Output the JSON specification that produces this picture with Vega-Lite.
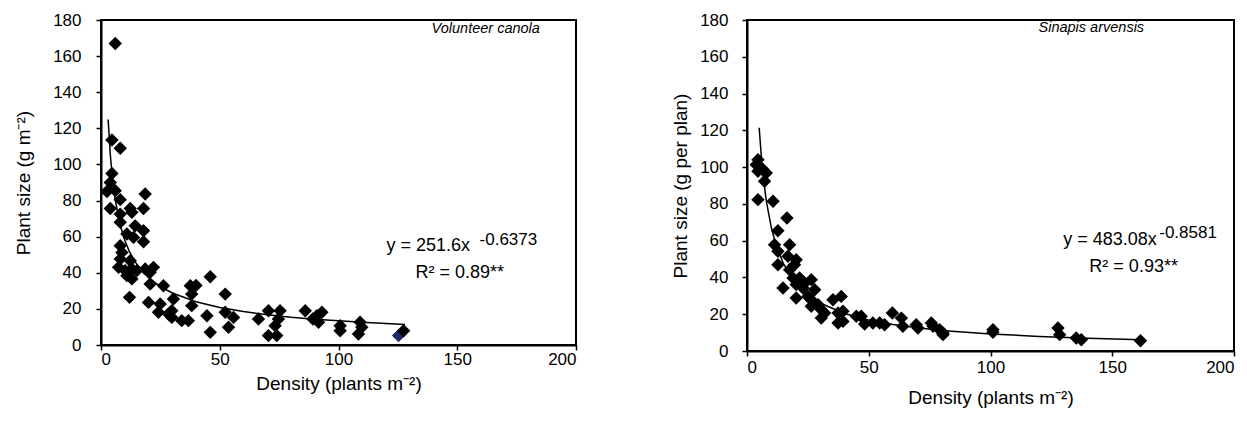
{
  "$schema": "https://vega.github.io/schema/vega-lite/v6.json",
  "background": "white",
  "padding": {"left": 13, "top": 10, "right": 5, "bottom": 5},
  "spacing": 171,
  "bounds": "flush",
  "config": {
    "font": "Liberation Sans",
    "view": {"stroke": "black", "strokeWidth": 2},
    "axis": {
      "grid": false,
      "domainColor": "black",
      "domainWidth": 2,
      "tickColor": "black",
      "tickWidth": 1.5,
      "tickSize": 5,
      "labelColor": "black",
      "labelFontSize": 17,
      "titleFontSize": 19,
      "titleFontWeight": "normal",
      "titleColor": "black"
    }
  },
  "datasets": {
    "leftPts": [
      {"x": 6, "y": 167, "grp": "a"}, {"x": 4.6, "y": 113.5, "grp": "a"}, {"x": 8.1, "y": 109, "grp": "a"},
      {"x": 4.6, "y": 95, "grp": "a"}, {"x": 3.9, "y": 90, "grp": "a"}, {"x": 2.5, "y": 85, "grp": "a"},
      {"x": 6, "y": 85.5, "grp": "a"}, {"x": 8.1, "y": 80.5, "grp": "a"}, {"x": 18.6, "y": 83.6, "grp": "a"},
      {"x": 3.9, "y": 75.6, "grp": "a"}, {"x": 12.3, "y": 75.6, "grp": "a"}, {"x": 17.9, "y": 75.6, "grp": "a"},
      {"x": 8.1, "y": 72.5, "grp": "a"}, {"x": 13, "y": 73.5, "grp": "a"}, {"x": 8.1, "y": 68, "grp": "a"},
      {"x": 14.4, "y": 66, "grp": "a"}, {"x": 17.9, "y": 63.3, "grp": "a"}, {"x": 10.9, "y": 61.5, "grp": "a"},
      {"x": 13.7, "y": 59.6, "grp": "a"}, {"x": 17.9, "y": 57.2, "grp": "a"}, {"x": 8.1, "y": 55, "grp": "a"},
      {"x": 8.8, "y": 51.3, "grp": "a"}, {"x": 8.1, "y": 47.6, "grp": "a"}, {"x": 12.3, "y": 46.7, "grp": "a"},
      {"x": 7.4, "y": 43, "grp": "a"}, {"x": 10.2, "y": 41.2, "grp": "a"}, {"x": 13, "y": 42.1, "grp": "a"},
      {"x": 15.1, "y": 41.2, "grp": "a"}, {"x": 10.9, "y": 38.4, "grp": "a"}, {"x": 13, "y": 36.6, "grp": "a"},
      {"x": 18.6, "y": 42.1, "grp": "a"}, {"x": 22.1, "y": 43, "grp": "a"}, {"x": 20.7, "y": 40.3, "grp": "a"},
      {"x": 20.7, "y": 33.8, "grp": "a"}, {"x": 26.3, "y": 32.8, "grp": "a"}, {"x": 12, "y": 26.4, "grp": "a"},
      {"x": 20, "y": 23.6, "grp": "a"}, {"x": 24.9, "y": 22.7, "grp": "a"}, {"x": 24.2, "y": 18.1, "grp": "a"},
      {"x": 30.5, "y": 25.5, "grp": "a"}, {"x": 29.8, "y": 19, "grp": "a"}, {"x": 28.4, "y": 17.2, "grp": "a"},
      {"x": 29.8, "y": 15.3, "grp": "a"}, {"x": 34, "y": 13.5, "grp": "a"}, {"x": 36.8, "y": 13.5, "grp": "a"},
      {"x": 37.6, "y": 32.8, "grp": "a"}, {"x": 38.2, "y": 28.2, "grp": "a"}, {"x": 38.2, "y": 21.8, "grp": "a"},
      {"x": 40, "y": 33, "grp": "a"},
      {"x": 46, "y": 37.8, "grp": "a"}, {"x": 44.6, "y": 16.2, "grp": "a"}, {"x": 46, "y": 7, "grp": "a"},
      {"x": 52.3, "y": 28.2, "grp": "a"}, {"x": 52.3, "y": 18.1, "grp": "a"}, {"x": 53.7, "y": 9.8, "grp": "a"},
      {"x": 55.8, "y": 15.3, "grp": "a"}, {"x": 66.3, "y": 14.4, "grp": "a"}, {"x": 70.5, "y": 19, "grp": "a"},
      {"x": 75.4, "y": 19, "grp": "a"}, {"x": 74.7, "y": 14.4, "grp": "a"}, {"x": 73.3, "y": 10.7, "grp": "a"},
      {"x": 70.5, "y": 5.2, "grp": "a"}, {"x": 74, "y": 5.2, "grp": "a"}, {"x": 86, "y": 19, "grp": "a"},
      {"x": 89.2, "y": 14.4, "grp": "a"}, {"x": 90.9, "y": 16.2, "grp": "a"}, {"x": 93, "y": 18.1, "grp": "a"},
      {"x": 91.6, "y": 12.6, "grp": "a"}, {"x": 100.7, "y": 10.7, "grp": "a"}, {"x": 100.7, "y": 7.9, "grp": "a"},
      {"x": 109.1, "y": 12.6, "grp": "a"}, {"x": 108.4, "y": 6.1, "grp": "a"}, {"x": 109.8, "y": 9.8, "grp": "a"},
      {"x": 125.3, "y": 5.2, "grp": "b"}, {"x": 127.4, "y": 7.9, "grp": "a"}
    ],
    "leftFit": [
      {"x": 3, "y": 124.9}, {"x": 4, "y": 104.0}, {"x": 5, "y": 90.2}, {"x": 6, "y": 80.3},
      {"x": 8, "y": 66.9}, {"x": 10, "y": 58.0}, {"x": 12, "y": 51.6}, {"x": 15, "y": 44.8},
      {"x": 20, "y": 37.3}, {"x": 25, "y": 32.4}, {"x": 30, "y": 28.8}, {"x": 40, "y": 24.0},
      {"x": 50, "y": 20.8}, {"x": 60, "y": 18.5}, {"x": 70, "y": 16.8}, {"x": 80, "y": 15.4},
      {"x": 90, "y": 14.3}, {"x": 100, "y": 13.4}, {"x": 110, "y": 12.6}, {"x": 120, "y": 11.9},
      {"x": 128, "y": 11.4}
    ],
    "leftTxt": [
      {"x": 120.2, "y": 55, "label": "y = 251.6x"},
      {"x": 132.4, "y": 40, "label": "R² = 0.89**"}
    ],
    "leftSup": [{"x": 159.4, "y": 58, "label": "-0.6373"}],
    "leftName": [{"x": 162, "y": 175, "label": "Volunteer canola"}],
    "rightPts": [
      {"x": 4.5, "y": 104}, {"x": 3.8, "y": 101.3}, {"x": 5.2, "y": 100.4}, {"x": 4.5, "y": 97.7},
      {"x": 6.6, "y": 98.6}, {"x": 7.9, "y": 96.8}, {"x": 7.2, "y": 92.3}, {"x": 4.5, "y": 82.3},
      {"x": 10.7, "y": 81.4}, {"x": 16.4, "y": 72.3}, {"x": 12.7, "y": 65.4}, {"x": 11.3, "y": 57.8},
      {"x": 17.5, "y": 57.8}, {"x": 12.7, "y": 54.2}, {"x": 16.8, "y": 51.5}, {"x": 20.2, "y": 49.6},
      {"x": 12.7, "y": 46.9}, {"x": 19.5, "y": 46.9}, {"x": 17.5, "y": 44.2}, {"x": 14.8, "y": 34.3},
      {"x": 18.9, "y": 39.7}, {"x": 21.6, "y": 39.7}, {"x": 26.4, "y": 38.8}, {"x": 20.2, "y": 36.1},
      {"x": 23.7, "y": 37}, {"x": 23, "y": 34.3}, {"x": 27.8, "y": 33.3}, {"x": 20.2, "y": 28.8},
      {"x": 25, "y": 29.7}, {"x": 26.4, "y": 27.9}, {"x": 29.2, "y": 25.2}, {"x": 26.4, "y": 24.3},
      {"x": 30.5, "y": 22.5}, {"x": 31.9, "y": 20.7}, {"x": 30.5, "y": 17.9}, {"x": 35.3, "y": 27.9},
      {"x": 38.7, "y": 29.7}, {"x": 37.4, "y": 20.7}, {"x": 39.4, "y": 21.6}, {"x": 37.4, "y": 15.2},
      {"x": 39.4, "y": 16.1}, {"x": 44.9, "y": 18.9}, {"x": 46.9, "y": 18.9}, {"x": 48.3, "y": 14.7},
      {"x": 51.7, "y": 15.2}, {"x": 54.5, "y": 15.2}, {"x": 56.5, "y": 14.3}, {"x": 59.7, "y": 20.7},
      {"x": 63.4, "y": 17.9}, {"x": 64, "y": 13.4}, {"x": 69.5, "y": 14.3}, {"x": 70.2, "y": 12.5},
      {"x": 75.7, "y": 15.2}, {"x": 76.4, "y": 13.4}, {"x": 79.1, "y": 11.6}, {"x": 80.5, "y": 8.9},
      {"x": 80.5, "y": 9.8}, {"x": 101, "y": 11.6}, {"x": 101, "y": 10.2}, {"x": 127.7, "y": 12.5},
      {"x": 128.4, "y": 8.9}, {"x": 135.2, "y": 7.1}, {"x": 137.3, "y": 6.1}, {"x": 161.6, "y": 5.6}
    ],
    "rightFit": [
      {"x": 5, "y": 121.4}, {"x": 6, "y": 103.8}, {"x": 7, "y": 91.0}, {"x": 8, "y": 81.1},
      {"x": 10, "y": 67.0}, {"x": 12, "y": 57.3}, {"x": 15, "y": 47.3}, {"x": 20, "y": 36.9},
      {"x": 25, "y": 30.5}, {"x": 30, "y": 26.1}, {"x": 40, "y": 20.4}, {"x": 50, "y": 16.8},
      {"x": 60, "y": 14.4}, {"x": 70, "y": 12.6}, {"x": 80, "y": 11.2}, {"x": 100, "y": 9.3},
      {"x": 120, "y": 7.9}, {"x": 140, "y": 7.0}, {"x": 162, "y": 6.1}
    ],
    "rightTxt": [
      {"x": 129.9, "y": 60.3, "label": "y = 483.08x"},
      {"x": 140.6, "y": 45.6, "label": "R² = 0.93**"}
    ],
    "rightSup": [{"x": 169.3, "y": 64, "label": "-0.8581"}],
    "rightName": [{"x": 141.4, "y": 175.6, "label": "Sinapis arvensis"}]
  },
  "hconcat": [
    {
      "width": 475,
      "height": 325,
      "encoding": {
        "x": {"field": "x", "type": "quantitative", "scale": {"domain": [0, 200], "nice": false},
              "axis": {"values": [0, 50, 100, 150, 200], "title": "Density (plants m⁻²)", "labelPadding": 1, "titlePadding": 7}},
        "y": {"field": "y", "type": "quantitative", "scale": {"domain": [0, 180], "nice": false},
              "axis": {"values": [0, 20, 40, 60, 80, 100, 120, 140, 160, 180], "title": "Plant size (g m⁻²)", "labelPadding": 15, "titlePadding": 19}}
      },
      "layer": [
        {"data": {"name": "leftFit"}, "mark": {"type": "line", "color": "black", "strokeWidth": 1.5}},
        {"data": {"name": "leftPts"}, "mark": {"type": "point", "shape": "diamond", "filled": true, "size": 180, "opacity": 1},
         "encoding": {"color": {"field": "grp", "type": "nominal", "scale": {"domain": ["a", "b"], "range": ["black", "#1f2a6e"]}, "legend": null}}},
        {"data": {"name": "leftTxt"}, "mark": {"type": "text", "align": "left", "baseline": "middle", "fontSize": 18, "color": "black"},
         "encoding": {"text": {"field": "label"}}},
        {"data": {"name": "leftSup"}, "mark": {"type": "text", "align": "left", "baseline": "middle", "fontSize": 17, "color": "black"},
         "encoding": {"text": {"field": "label"}}},
        {"data": {"name": "leftName"}, "mark": {"type": "text", "align": "center", "baseline": "middle", "fontSize": 14.5, "fontStyle": "italic", "color": "black"},
         "encoding": {"text": {"field": "label"}}}
      ]
    },
    {
      "width": 487,
      "height": 331,
      "encoding": {
        "x": {"field": "x", "type": "quantitative", "scale": {"domain": [0, 200], "nice": false},
              "axis": {"values": [0, 50, 100, 150, 200], "title": "Density (plants m⁻²)", "labelPadding": 3, "titlePadding": 13}},
        "y": {"field": "y", "type": "quantitative", "scale": {"domain": [0, 180], "nice": false},
              "axis": {"values": [0, 20, 40, 60, 80, 100, 120, 140, 160, 180], "title": "Plant size (g per plan)", "labelPadding": 14, "titlePadding": 9}}
      },
      "layer": [
        {"data": {"name": "rightFit"}, "mark": {"type": "line", "color": "black", "strokeWidth": 1.5}},
        {"data": {"name": "rightPts"}, "mark": {"type": "point", "shape": "diamond", "filled": true, "size": 180, "opacity": 1, "color": "black"}},
        {"data": {"name": "rightTxt"}, "mark": {"type": "text", "align": "left", "baseline": "middle", "fontSize": 18, "color": "black"},
         "encoding": {"text": {"field": "label"}}},
        {"data": {"name": "rightSup"}, "mark": {"type": "text", "align": "left", "baseline": "middle", "fontSize": 17, "color": "black"},
         "encoding": {"text": {"field": "label"}}},
        {"data": {"name": "rightName"}, "mark": {"type": "text", "align": "center", "baseline": "middle", "fontSize": 14.5, "fontStyle": "italic", "color": "black"},
         "encoding": {"text": {"field": "label"}}}
      ]
    }
  ]
}
